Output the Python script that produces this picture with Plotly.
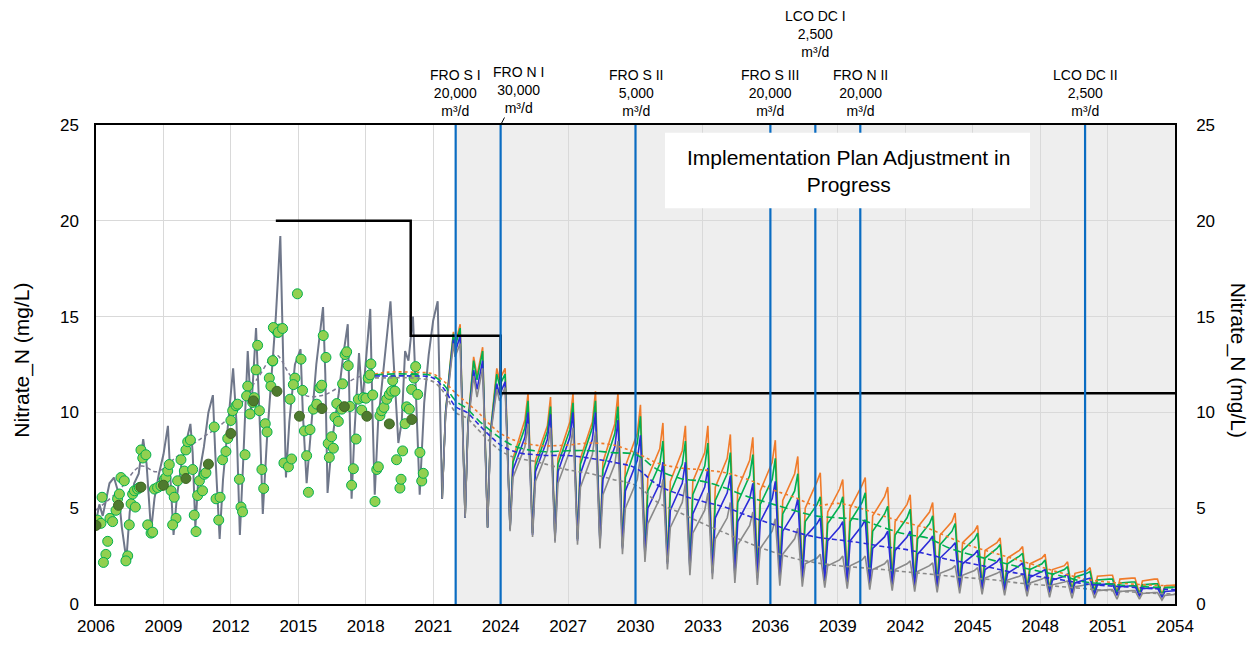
import plotly.graph_objects as go

FONT = "Liberation Sans, Arial, sans-serif"

# ---------------- axis ticks ----------------
x_ticks = [2006, 2009, 2012, 2015, 2018, 2021, 2024, 2027, 2030, 2033, 2036, 2039, 2042, 2045, 2048, 2051, 2054]
y_ticks = [0, 5, 10, 15, 20, 25]

# ---------------- observed samples ----------------
obs_t = [2006.07, 2006.22, 2006.27, 2006.52, 2006.44, 2006.33, 2006.62, 2006.74, 2006.89, 2006.96,
         2007.04, 2007.11, 2007.26, 2007.41, 2007.33, 2007.48, 2007.56, 2007.63, 2007.75, 2007.71,
         2007.85, 2007.93, 2008.0, 2008.08, 2008.22, 2008.3, 2008.45, 2008.52, 2008.6, 2008.74,
         2008.89, 2009.04, 2009.11, 2009.19, 2009.26, 2009.34, 2009.48, 2009.56, 2009.41, 2009.63,
         2009.78, 2009.93, 2010.0, 2010.08, 2010.2, 2010.3, 2010.37, 2010.45, 2010.52, 2010.6,
         2010.74, 2010.82, 2010.89, 2011.26, 2011.34, 2011.46, 2011.52, 2011.63, 2011.78, 2011.86,
         2012.0, 2012.08, 2012.23, 2012.3, 2012.38, 2012.45, 2012.52, 2012.63, 2012.75, 2012.7,
         2012.85, 2012.97, 2013.04, 2013.12, 2013.19, 2013.27, 2013.38, 2013.46, 2013.53, 2013.61,
         2013.71, 2013.78, 2013.86, 2013.93, 2014.08, 2014.16,
         2013.89, 2014.11, 2014.3, 2013.86, 2014.96, 2015.12, 2014.85, 2014.78, 2014.63, 2015.19,
         2014.36, 2014.56, 2014.7, 2015.27, 2015.52, 2015.37, 2015.45, 2015.67, 2015.82, 2015.96,
         2016.04, 2016.11, 2016.23, 2016.33, 2016.48, 2016.56, 2016.38, 2016.63, 2016.78, 2016.71,
         2016.93, 2016.97, 2017.08, 2017.15, 2017.22, 2017.3, 2017.45, 2017.37, 2017.57, 2017.67,
         2017.82, 2017.89, 2018.01, 2018.11, 2018.19, 2018.23, 2018.31, 2018.41, 2018.49, 2018.56,
         2018.63, 2018.71, 2018.81, 2018.93, 2019.05, 2019.15, 2019.2, 2019.3, 2019.37, 2019.52,
         2019.57, 2019.64, 2019.75, 2019.82, 2019.94, 2020.04, 2020.15, 2020.22, 2020.31, 2020.41,
         2020.49, 2020.56]
obs_v = [4.38, 4.21, 5.57, 3.27, 2.59, 2.17, 4.47, 4.3, 4.89, 5.49,
         5.74, 6.6, 6.43, 2.51, 2.25, 4.13, 5.23, 5.74, 5.06, 5.91,
         6.0, 6.08, 8.04, 7.62, 7.79, 4.13, 3.7, 3.75, 6.0, 6.08,
         6.17, 6.51, 6.6, 6.94, 7.28, 5.91, 5.57, 4.47, 4.13, 6.43,
         7.53, 6.94, 8.04, 8.47, 8.56, 7.02, 4.64, 3.78, 5.66, 6.43,
         5.91, 6.77, 6.85, 9.24, 5.49, 4.38, 5.57, 7.53, 7.96, 8.64,
         9.58, 10.09, 10.35, 10.43, 6.51, 5.06, 4.81, 7.79, 11.37, 10.86,
         9.92, 10.52, 10.77, 12.22, 13.5, 10.09, 7.02, 6.03, 9.41, 8.98,
         11.79, 11.37, 12.68, 14.38, 14.18, 14.35,
         14.43, 14.18, 14.38, 12.7, 16.19, 12.78, 11.79, 11.45, 10.69, 11.15,
         7.36, 7.16, 7.57, 9.03, 9.1, 7.74, 5.83, 10.17, 10.43, 11.28,
         11.42, 14.01, 12.87, 8.38, 8.73, 8.13, 7.65, 9.75, 9.53, 10.46,
         10.17, 11.49, 13.02, 13.16, 12.44, 10.31, 7.06, 6.2, 8.61, 10.69,
         10.12, 10.77, 10.74, 11.79, 11.96, 12.53, 10.91, 5.35, 7.02, 7.16,
         9.83, 10.09, 10.26, 10.69, 10.94, 11.11, 11.66, 11.11, 7.53, 6.05,
         6.51, 7.99, 9.41, 10.29, 10.17, 11.2, 11.79, 12.39, 10.94, 7.91,
         6.42, 6.82]

# annual means (dark markers)
mean_t = [2006.0, 2007.0, 2008.0, 2009.0, 2010.0, 2011.0, 2012.0, 2013.0, 2014.05, 2015.05,
          2016.05, 2017.05, 2018.05, 2019.05, 2020.05]
mean_v = [4.1, 5.15, 6.1, 6.2, 6.55, 7.3, 8.9, 10.6, 11.1, 9.8, 10.2, 10.3, 9.8, 9.4, 9.63]

# ---------------- historical simulated series ----------------
hist_t = [2006.0, 2006.15, 2006.3, 2006.6, 2006.8, 2007.0, 2007.15, 2007.35, 2007.5, 2007.7,
          2007.9, 2008.1, 2008.25, 2008.45, 2008.6, 2008.8, 2009.0, 2009.2, 2009.3, 2009.45,
          2009.6, 2009.8, 2010.0, 2010.2, 2010.3, 2010.42, 2010.55, 2010.8, 2011.0, 2011.2,
          2011.3, 2011.5, 2011.65, 2011.85, 2012.1, 2012.25, 2012.4, 2012.55, 2012.75, 2012.9,
          2013.12, 2013.3, 2013.42, 2013.6, 2013.85, 2014.0, 2014.2, 2014.3, 2014.45, 2014.6,
          2014.85, 2015.1, 2015.2, 2015.37, 2015.55, 2015.8, 2016.1, 2016.2, 2016.3, 2016.5,
          2016.8, 2017.0, 2017.2, 2017.3, 2017.37, 2017.5, 2017.7, 2017.85, 2018.0, 2018.2,
          2018.3, 2018.4, 2018.55, 2018.8, 2019.1, 2019.2, 2019.45, 2019.6, 2019.75, 2019.9,
          2020.1, 2020.2, 2020.4, 2020.6, 2020.8, 2021.0, 2021.2, 2021.4]
hist_v = [4.3, 5.2, 4.6, 6.3, 6.6, 5.8, 4.0, 2.3, 4.8, 6.3,
          6.8, 8.6, 7.3, 3.8, 5.5, 6.8, 7.8, 9.3, 6.8, 3.6,
          5.6, 7.3, 8.4, 9.4, 7.9, 4.0, 6.5, 8.2, 10.0, 10.9,
          8.0, 3.4, 6.5, 9.0, 12.3, 9.5, 3.6, 7.5, 13.2, 10.0,
          14.4, 9.0, 4.7, 8.5, 12.5, 15.0, 19.2, 14.0, 6.6, 9.5,
          12.5, 13.3, 10.0, 6.3, 9.0, 12.5, 15.5, 12.0, 5.8, 8.5,
          11.0, 13.0, 14.6, 9.0, 5.5, 9.0, 13.1, 10.5, 12.5, 15.4,
          10.0, 5.7, 9.5, 12.5, 15.8, 13.5, 8.4, 9.5, 13.2, 12.7,
          15.0, 12.0, 5.7, 10.5, 13.0, 14.8, 15.8, 5.5]

hist_trend_t = [2006.0, 2007.0, 2008.0, 2008.7, 2009.5, 2010.5, 2011.5, 2012.3, 2013.2, 2014.0,
                2014.6, 2015.3, 2016.1, 2017.0, 2017.8, 2018.4]
hist_trend_v = [4.9, 5.9, 7.2, 6.9, 7.6, 8.5, 9.3, 10.2, 11.8, 13.0,
                12.0, 10.9, 10.9, 11.45, 11.9, 12.0]

# ---------------- scenario series (2021-2024 transition) ----------------
early_t = [2021.4, 2021.55, 2021.75, 2021.9, 2021.97, 2022.2, 2022.42, 2022.55, 2022.8, 2022.95,
           2023.2, 2023.42, 2023.55, 2023.83, 2023.95, 2024.2]
orange_early = [5.5, 10.0, 12.5, 14.2, 13.5, 14.6, 4.5, 9.5, 12.9, 11.9, 13.4, 4.0, 9.0, 12.3, 11.7, 12.3]
green_early = [5.5, 10.0, 12.4, 14.1, 13.4, 14.4, 4.5, 9.5, 12.7, 11.7, 13.2, 4.0, 9.0, 12.0, 11.4, 12.0]
blue_early = [5.5, 9.9, 12.2, 13.8, 13.1, 14.0, 4.5, 9.4, 12.2, 11.2, 12.7, 4.0, 8.9, 11.5, 10.9, 11.6]
grey_early = [5.5, 9.8, 12.0, 13.6, 12.9, 13.6, 4.5, 9.3, 11.9, 10.8, 12.3, 4.0, 8.8, 11.2, 10.6, 11.3]

# yearly cycles: trough in the given year, then low/high shoulders and the next peak
cycle_years = list(range(2024, 2054))
orange_trough = [3.9, 3.7, 3.4, 3.4, 3.2, 3.0, 2.6, 2.2, 1.9, 1.8, 1.7, 1.6, 1.6, 1.5, 1.4,
                 1.35, 1.3, 1.2, 1.1, 1.0, 0.95, 0.9, 0.85, 0.8, 0.75, 0.7, 0.65, 0.6, 0.55, 0.5]
orange_low = [7.6, 7.5, 7.6, 7.6, 7.4, 7.2, 6.6, 6.4, 6.4, 6.1, 6.0, 5.9, 5.4, 5.0, 4.8,
              5.0, 4.6, 4.3, 4.0, 3.6, 3.2, 2.8, 2.4, 2.1, 1.8, 1.6, 1.45, 1.3, 1.2, 0.95]
orange_high = [9.6, 9.3, 9.5, 9.5, 9.4, 8.9, 8.1, 8.0, 7.9, 7.6, 7.5, 7.4, 6.8, 6.4, 6.0,
               6.2, 5.6, 5.2, 4.8, 4.3, 3.8, 3.2, 2.8, 2.4, 2.0, 1.75, 1.5, 1.35, 1.3, 1.0]
orange_peak = [11.0, 10.8, 11.0, 11.1, 11.0, 10.4, 9.45, 9.3, 9.3, 8.85, 8.7, 8.55, 7.7, 6.85, 6.5,
               6.6, 6.1, 5.7, 5.3, 4.75, 4.1, 3.45, 3.0, 2.6, 2.2, 1.9, 1.5, 1.35, 1.3, 1.0]

green_trough = [3.9, 3.7, 3.4, 3.4, 3.2, 3.0, 2.6, 2.2, 1.9, 1.7, 1.6, 1.5, 1.5, 1.4, 1.3,
                1.25, 1.2, 1.1, 1.0, 0.95, 0.9, 0.85, 0.8, 0.75, 0.7, 0.65, 0.6, 0.55, 0.5, 0.45]
green_low = [7.4, 7.2, 7.3, 7.3, 7.0, 6.6, 5.9, 5.8, 5.7, 5.4, 5.3, 5.2, 4.7, 4.3, 4.2,
             4.3, 3.8, 3.6, 3.4, 3.1, 2.8, 2.4, 2.1, 1.8, 1.55, 1.4, 1.25, 1.1, 1.0, 0.85]
green_high = [9.2, 9.0, 9.1, 9.2, 8.9, 8.4, 7.3, 7.3, 7.2, 6.8, 6.7, 6.5, 5.9, 5.2, 5.1,
              5.3, 4.7, 4.5, 4.2, 3.8, 3.4, 2.9, 2.5, 2.1, 1.8, 1.6, 1.3, 1.15, 1.05, 0.9]
green_peak = [10.6, 10.3, 10.5, 10.6, 10.3, 9.8, 8.5, 8.5, 8.4, 7.9, 7.8, 7.6, 6.8, 5.6, 5.6,
              5.8, 5.1, 4.95, 4.6, 4.2, 3.7, 3.1, 2.65, 2.3, 1.95, 1.7, 1.3, 1.15, 1.05, 0.9]

blue_trough = [3.9, 3.6, 3.3, 3.3, 3.1, 2.9, 2.5, 2.1, 1.8, 1.6, 1.5, 1.35, 1.3, 1.25, 1.2,
               1.1, 1.05, 1.0, 0.9, 0.85, 0.8, 0.75, 0.7, 0.65, 0.6, 0.55, 0.5, 0.45, 0.4, 0.35]
blue_low = [7.0, 6.9, 6.9, 6.8, 6.5, 5.9, 5.0, 4.9, 4.7, 4.5, 4.3, 4.3, 3.8, 3.5, 3.3,
            3.3, 2.9, 2.8, 2.6, 2.4, 2.1, 1.8, 1.6, 1.4, 1.25, 1.1, 1.0, 0.9, 0.8, 0.65]
blue_high = [8.7, 8.6, 8.7, 8.6, 8.2, 7.5, 6.3, 6.3, 6.1, 5.8, 5.5, 5.5, 4.8, 4.2, 4.0,
             4.1, 3.5, 3.5, 3.3, 3.0, 2.6, 2.2, 2.0, 1.7, 1.45, 1.3, 1.05, 0.95, 0.85, 0.7]
blue_peak = [10.0, 9.9, 10.0, 10.0, 9.6, 8.8, 7.4, 7.4, 7.1, 6.7, 6.3, 6.4, 5.5, 4.5, 4.3,
             4.4, 3.8, 3.8, 3.55, 3.2, 2.8, 2.4, 2.15, 1.8, 1.55, 1.35, 1.05, 0.95, 0.85, 0.7]

grey_trough = [3.8, 3.5, 3.2, 3.1, 2.9, 2.6, 2.2, 1.8, 1.5, 1.3, 1.1, 1.0, 0.95, 0.9, 0.85,
               0.8, 0.75, 0.7, 0.65, 0.6, 0.55, 0.5, 0.45, 0.4, 0.35, 0.3, 0.3, 0.25, 0.25, 0.2]
grey_low = [6.6, 6.4, 6.3, 6.1, 5.7, 5.0, 4.2, 4.0, 3.7, 3.4, 3.1, 2.9, 2.6, 2.1, 2.0,
            2.0, 1.8, 1.8, 1.7, 1.6, 1.5, 1.35, 1.25, 1.1, 1.0, 0.9, 0.7, 0.65, 0.55, 0.45]
grey_high = [8.2, 8.0, 8.0, 7.8, 7.3, 6.5, 5.5, 5.3, 4.9, 4.5, 4.1, 3.8, 3.4, 2.4, 2.3,
             2.3, 2.1, 2.1, 2.0, 1.85, 1.75, 1.6, 1.45, 1.3, 1.15, 1.0, 0.75, 0.7, 0.6, 0.5]
grey_peak = [9.4, 9.2, 9.2, 9.0, 8.5, 7.7, 6.5, 6.3, 5.8, 5.3, 4.8, 4.45, 3.95, 2.6, 2.5,
             2.5, 2.3, 2.25, 2.15, 2.0, 1.9, 1.7, 1.55, 1.4, 1.2, 1.05, 0.75, 0.7, 0.6, 0.5]

# ---------------- scenario trend lines ----------------
trend_t = [2018.4, 2019.0, 2020.0, 2021.0, 2021.5, 2022.0, 2022.5, 2023.0, 2023.5, 2024.0,
           2024.5, 2025.0, 2025.5, 2026.0, 2027.0, 2028.0, 2029.0, 2030.0, 2031.0, 2032.0,
           2033.0, 2034.0, 2035.0, 2036.0, 2037.0, 2038.0, 2039.0, 2040.0, 2041.0, 2042.0,
           2043.0, 2044.0, 2045.0, 2046.0, 2047.0, 2048.0, 2049.0, 2050.0, 2051.0, 2052.0,
           2053.0, 2054.0]
orange_trend = [12.0, 12.1, 12.1, 12.0, 11.6, 11.0, 10.5, 10.0, 9.4, 8.9,
                8.6, 8.4, 8.3, 8.25, 8.3, 8.4, 8.3, 7.9, 7.35, 7.1,
                7.0, 6.85, 6.5, 6.0, 5.6, 5.15, 5.25, 5.0, 4.6, 4.25,
                3.95, 3.45, 3.0, 2.65, 2.3, 1.95, 1.6, 1.3, 1.15, 1.05,
                0.98, 0.95]
green_trend = [11.95, 12.0, 12.0, 11.9, 11.4, 10.6, 10.2, 9.6, 9.1, 8.65,
               8.3, 8.1, 8.0, 7.95, 8.0, 8.0, 7.9, 7.8, 7.0, 6.55,
               6.4, 6.05, 5.6, 5.25, 4.9, 4.6, 4.5, 4.4, 4.0, 3.65,
               3.44, 2.9, 2.55, 2.25, 1.95, 1.7, 1.45, 1.15, 1.05, 0.95,
               0.88, 0.85]
blue_trend = [11.9, 11.9, 11.9, 11.8, 11.2, 10.3, 10.0, 9.4, 8.8, 8.3,
              8.0, 7.85, 7.8, 7.75, 7.75, 7.6, 7.4, 7.1, 6.2, 5.7,
              5.35, 5.05, 4.6, 4.2, 3.8, 3.5, 3.35, 3.2, 3.0, 2.85,
              2.6, 2.3, 2.1, 1.85, 1.6, 1.42, 1.25, 1.05, 0.95, 0.88,
              0.8, 0.75]
grey_trend = [11.8, 11.8, 11.8, 11.6, 11.0, 10.0, 9.7, 9.1, 8.5, 8.0,
              7.7, 7.55, 7.45, 7.3, 7.0, 6.8, 6.5, 6.2, 5.3, 4.75,
              4.2, 3.7, 3.2, 2.76, 2.4, 2.16, 2.0, 1.9, 1.8, 1.68,
              1.57, 1.45, 1.35, 1.25, 1.1, 1.0, 0.9, 0.8, 0.7, 0.63,
              0.56, 0.52]

# ---------------- standard (step) ----------------
limit_t = [2014, 2020, 2024, 2054]
limit_v = [20, 14, 11, 11]

# ---------------- events ----------------
event_years = [2022, 2024, 2030, 2036, 2038, 2040, 2050]
event_names = ["FRO S I", "FRO N I", "FRO S II", "FRO S III", "LCO DC I", "FRO N II", "LCO DC II"]
event_caps = ["20,000", "30,000", "5,000", "20,000", "2,500", "20,000", "2,500"]
shade_start = 2022
x_min, x_max = 2006, 2054
y_min, y_max = 0, 25

# cycle phase within a year (timing of seasonal features)
PH_TROUGH, PH_LOW, PH_HIGH, PH_PEAK = 0.42, 0.55, 1.08, 1.22


def scenario(early_vals, troughs, lows, highs, peaks):
    xs, ys = list(early_t), list(early_vals)
    for yr, tr, lo, hi, pk in zip(cycle_years, troughs, lows, highs, peaks):
        xs += [yr + PH_TROUGH, yr + PH_LOW, yr + PH_HIGH, yr + PH_PEAK]
        ys += [tr, lo, hi, pk]
    return xs, ys


fig = go.Figure()

# grey future region
fig.add_shape(type="rect", xref="x", yref="y", x0=shade_start, x1=x_max, y0=y_min, y1=y_max,
              fillcolor="#EEEEEE", line_width=0, layer="below")

# historical simulated line and trend
fig.add_trace(go.Scatter(x=hist_t, y=hist_v, mode="lines",
                         line=dict(color="#6F778A", width=2), hoverinfo="skip"))
fig.add_trace(go.Scatter(x=hist_trend_t, y=hist_trend_v, mode="lines", line_shape="spline",
                         line=dict(color="#7D7A92", width=1.5, dash="4px,3px"), hoverinfo="skip"))

# observations
fig.add_trace(go.Scatter(x=obs_t, y=obs_v, mode="markers",
                         marker=dict(size=10, color="#92D050", line=dict(color="#00B050", width=1))))
fig.add_trace(go.Scatter(x=mean_t, y=mean_v, mode="markers",
                         marker=dict(size=10, color="#4E7A2E", line=dict(color="#3E6624", width=1))))

# scenario solid lines
series = [
    ("#F07B2A", orange_early, orange_trough, orange_low, orange_high, orange_peak),
    ("#00B050", green_early, green_trough, green_low, green_high, green_peak),
    ("#2B2BD8", blue_early, blue_trough, blue_low, blue_high, blue_peak),
    ("#8A8A8A", grey_early, grey_trough, grey_low, grey_high, grey_peak),
]
for col, e, tr, lo, hi, pk in series:
    xs, ys = scenario(e, tr, lo, hi, pk)
    fig.add_trace(go.Scatter(x=xs, y=ys, mode="lines", line=dict(color=col, width=1.6),
                             hoverinfo="skip"))

# scenario trend lines
trends = [("#F07B2A", orange_trend, "3px,3px"), ("#00B050", green_trend, "8px,4px"),
          ("#2B2BD8", blue_trend, "5px,3px"), ("#8A8A8A", grey_trend, "4px,3px")]
for col, vals, dash in trends:
    fig.add_trace(go.Scatter(x=trend_t, y=vals, mode="lines", line_shape="spline",
                             line=dict(color=col, width=1.6, dash=dash), hoverinfo="skip"))

# standard step line
fig.add_trace(go.Scatter(x=limit_t, y=limit_v, mode="lines", line_shape="hv",
                         line=dict(color="black", width=2.5), hoverinfo="skip"))

# invisible trace to activate right axis
fig.add_trace(go.Scatter(x=[x_min], y=[y_min], yaxis="y2", mode="markers",
                         marker=dict(opacity=0), hoverinfo="skip"))

# event lines
for yr in event_years:
    fig.add_shape(type="line", xref="x", yref="paper", x0=yr, x1=yr, y0=0, y1=1,
                  line=dict(color="#0A6CC2", width=2.2), layer="above")

# white text box
fig.add_shape(type="rect", xref="paper", yref="paper", x0=0.5273, x1=0.8656, y0=0.8262, y1=0.9836,
              fillcolor="white", line_width=0, layer="above")

annotations = []
for yr, name, cap in zip(event_years, event_names, event_caps):
    txt = f"{name}<br>{cap}<br>m³/d"
    if name == "FRO N I":
        annotations.append(dict(x=yr, y=1.0, xref="x", yref="paper", text=txt, showarrow=True,
                                arrowhead=0, arrowwidth=1, arrowcolor="black", ax=18, ay=-35,
                                standoff=0, font=dict(family=FONT, size=14, color="black")))
    else:
        yy = 1.190 if name == "LCO DC I" else 1.0665
        annotations.append(dict(x=yr, y=yy, xref="x", yref="paper", text=txt, showarrow=False,
                                xanchor="center", yanchor="middle",
                                font=dict(family=FONT, size=14, color="black")))

annotations.append(dict(x=0.697, y=0.9039, xref="paper", yref="paper",
                        text="Implementation Plan Adjustment in<br>Progress", showarrow=False,
                        xanchor="center", yanchor="middle",
                        font=dict(family=FONT, size=21, color="black")))
annotations.append(dict(x=-0.0686, y=0.51, xref="paper", yref="paper", text="Nitrate_N (mg/L)",
                        textangle=-90, showarrow=False, xanchor="center", yanchor="middle",
                        font=dict(family=FONT, size=21, color="black")))
annotations.append(dict(x=1.0584, y=0.51, xref="paper", yref="paper", text="Nitrate_N (mg/L)",
                        textangle=90, showarrow=False, xanchor="center", yanchor="middle",
                        font=dict(family=FONT, size=21, color="black")))

fig.update_layout(
    width=1257, height=648,
    margin=dict(l=96, r=82, t=125, b=34),
    paper_bgcolor="white", plot_bgcolor="white",
    showlegend=False,
    font=dict(family=FONT, size=17, color="black"),
    annotations=annotations,
    xaxis=dict(range=[x_min, x_max], tickvals=x_ticks, ticktext=[str(v) for v in x_ticks],
               showgrid=True, gridcolor="#D9D9D9", gridwidth=1, zeroline=False,
               showline=True, linecolor="black", linewidth=1.5, mirror=True,
               ticks="", ticklabelstandoff=6, tickfont=dict(family=FONT, size=17)),
    yaxis=dict(range=[y_min, y_max], tickvals=y_ticks, showgrid=True, gridcolor="#D9D9D9",
               gridwidth=1, zeroline=False, showline=True, linecolor="black", linewidth=1.5,
               mirror=True, ticks="", ticklabelstandoff=12, tickfont=dict(family=FONT, size=17)),
    yaxis2=dict(range=[y_min, y_max], tickvals=y_ticks, overlaying="y", side="right",
                showgrid=False, zeroline=False, showline=True, linecolor="black", linewidth=1.5,
                ticks="", ticklabelstandoff=16, tickfont=dict(family=FONT, size=17)),
)

# remove the browser's default 8px body margin so the figure fills the window exactly
fig.write_html("out.html", config={"displayModeBar": False},
               post_script="document.body.style.margin='0px';")
